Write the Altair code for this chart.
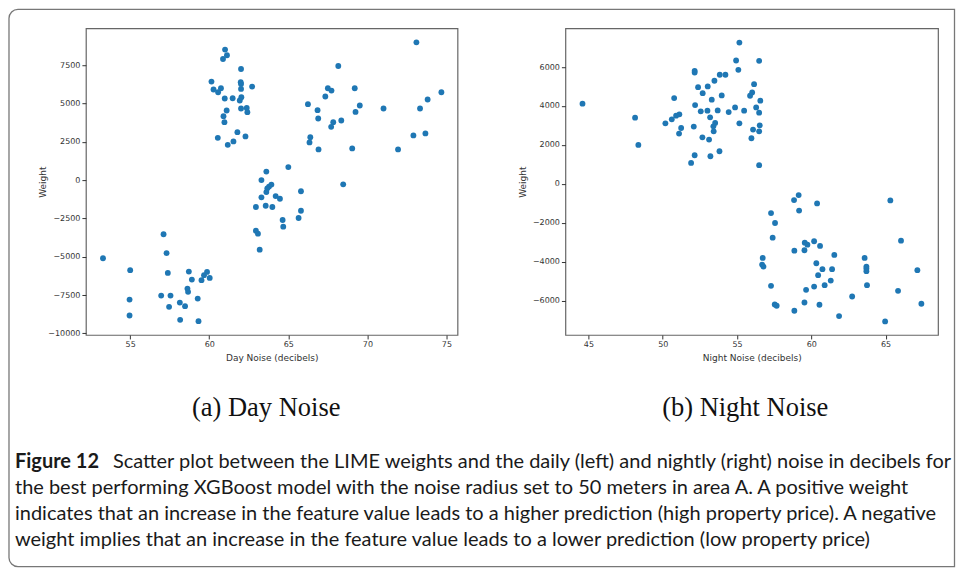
import altair as alt
import pandas as pd

# ---------------- data ----------------
day_noise = [61.0, 61.12, 60.87, 62.01, 60.14, 60.27, 60.56, 60.74, 61.99, 62.01,
             62.01, 62.03, 61.93, 60.98, 61.48, 61.10, 60.90, 60.96, 62.01, 62.37,
             62.41, 62.71, 60.54, 61.78, 62.29, 61.17, 61.53, 68.16, 73.10, 74.68,
             73.81, 73.33, 71.02, 69.20, 69.52, 69.25, 67.50, 67.73, 67.34, 66.24,
             66.85, 66.89, 68.35, 67.84, 67.71, 66.39, 66.34, 66.91, 69.04, 71.94,
             72.91, 73.67, 65.0, 63.61, 63.30, 63.93, 63.78, 63.67, 65.80, 68.47,
             63.61, 63.30, 62.95, 63.57, 63.99, 64.20, 64.47, 65.80, 65.65, 64.64,
             64.68, 62.95, 63.08, 63.19, 57.11, 57.30, 53.28, 55.0, 57.38, 58.71,
             59.86, 59.67, 59.51, 60.03, 58.90, 58.62, 58.66, 56.96, 57.55, 59.27,
             54.96, 58.14, 58.47, 57.46, 54.96, 58.16, 59.32]
day_weight = [8509, 8138, 7897, 7246, 6425, 5905, 5729, 5989, 6380, 6269,
              5944, 5403, 5188, 5319, 5338, 4537, 4166, 3776, 4668, 4707,
              4427, 6100, 2754, 3125, 2845, 2298, 2519, 7441, 8984, 5729,
              5254, 4668, 4668, 5989, 4863, 4446, 5989, 5839, 5449, 4948,
              4557, 4017, 3886, 3776, 3470, 2799, 2454, 1999, 2064, 1999,
              2910, 3040, 846, 553, 0, -293, -423, -540, -729, -280,
              -781, -1126, -1758, -1673, -1758, -1042, -1217, -1999, -2474, -2604,
              -3040, -3301, -3496, -4537, -3535, -4765, -5097, -5878, -6054, -5970,
              -5989, -6204, -6530, -6380, -6490, -7076, -7291, -7532, -7532, -7727,
              -7792, -7988, -8222, -8268, -8834, -9114, -9199]

night_noise = [44.60, 48.14, 48.36, 52.15, 52.15, 53.84, 54.22, 53.48, 52.38, 53.03,
               52.69, 53.97, 53.30, 50.77, 52.18, 52.56, 53.01, 53.70, 54.44, 51.12,
               50.90, 50.61, 50.18, 53.19, 53.53, 53.41, 53.43, 51.24, 51.10, 52.09,
               52.67, 53.12, 52.15, 51.91, 53.21, 53.82, 55.16, 54.94, 56.49, 55.09,
               56.15, 56.02, 55.88, 56.57, 56.29, 56.49, 54.87, 55.48, 55.16, 56.53,
               56.08, 56.49, 55.97, 56.49, 59.15, 58.84, 60.39, 59.18, 65.32, 57.29,
               57.56, 57.40, 58.86, 59.54, 59.56, 59.74, 60.19, 60.59, 61.55, 60.34,
               60.75, 61.40, 60.46, 61.31, 60.90, 60.19, 59.65, 56.73, 56.69, 56.78,
               57.29, 57.54, 57.67, 59.54, 60.55, 58.86, 61.87, 62.75, 63.59, 63.71,
               63.71, 63.71, 63.75, 64.97, 65.84, 66.04, 67.14, 67.41]
night_weight = [4116, 3400, 1997, 5806, 5719, 5601, 5601, 5294, 4966, 5002,
                4659, 4541, 4321, 4403, 4045, 3722, 3758, 3773, 3686, 3569,
                3502, 3313, 3108, 3415, 3123, 2954, 2698, 2867, 2580, 2939,
                2391, 2273, 1469, 1075, 1418, 1674, 7255, 6333, 6318, 5857,
                5120, 4695, 4526, 4270, 3927, 3656, 3927, 3758, 3108, 3005,
                2785, 2698, 2340, 957, -579, -835, -1004, -1372, -850, -1500,
                -2012, -2765, -3430, -3410, -3021, -3123, -2949, -3190, -3651, -4076,
                -4383, -4383, -4690, -4966, -5202, -5274, -5443, -3804, -4147, -4250,
                -5238, -6195, -6262, -6093, -6211, -6518, -6789, -5786, -3804, -4250,
                -4352, -4485, -5202, -7066, -5494, -2918, -4434, -6159]

day_xticks = [55, 60, 65, 70, 75]
day_yticks = [-10000, -7500, -5000, -2500, 0, 2500, 5000, 7500]
night_xticks = [45, 50, 55, 60, 65]
night_yticks = [-6000, -4000, -2000, 0, 2000, 4000, 6000]

sub_titles = ["(a) Day Noise", "(b) Night Noise"]
x_titles = ["Day Noise (decibels)", "Night Noise (decibels)"]
y_title = "Weight"

caption_head = "Figure 12"
caption_lines = [
    "Scatter plot between the LIME weights and the daily (left) and nightly (right) noise in decibels for",
    "the best performing XGBoost model with the noise radius set to 50 meters in area A. A positive weight",
    "indicates that an increase in the feature value leads to a higher prediction (high property price). A negative",
    "weight implies that an increase in the feature value leads to a lower prediction (low property price)",
]

POINT = "#1f77b4"
AX = "#333333"
CAP_FONT = "Lato"
CAP_SIZE = 20
CAP_COLOR = "#1a1a1a"


def scatter(noise, weight, xtitle, xdom, ydom, xticks, yticks, w):
    df = pd.DataFrame({"noise": noise, "weight": weight})
    return (
        alt.Chart(df)
        .mark_circle(size=34, opacity=1, color=POINT)
        .encode(
            x=alt.X(
                "noise:Q", title=xtitle,
                scale=alt.Scale(domain=xdom, nice=False, zero=False),
                axis=alt.Axis(values=xticks, format="d", titleY=23, titleBaseline="middle"),
            ),
            y=alt.Y(
                "weight:Q", title=y_title,
                scale=alt.Scale(domain=ydom, nice=False, zero=False),
                axis=alt.Axis(values=yticks, format="d", titleX=-43, titleBaseline="middle"),
            ),
        )
        .properties(width=w, height=307)
    )


def sub_caption(text, xc):
    return alt.Chart(pd.DataFrame({"t": [text]})).mark_text(
        align="center", baseline="middle", font="Liberation Serif",
        fontSize=26.5, color="#111111",
    ).encode(x=alt.value(xc), y=alt.value(380), text="t:N")


# caption (drawn in the left panel's layer, below the plots)
cap_df = pd.DataFrame({"line": [0, 1, 2, 3], "text": caption_lines})
head_df = pd.DataFrame({"line": [0], "text": [caption_head]})
y_cap = alt.Y("line:Q", scale=alt.Scale(domain=[0, 3], range=[434, 512]), axis=None)

head = alt.Chart(head_df).mark_text(
    align="left", baseline="middle", font=CAP_FONT, fontSize=CAP_SIZE,
    fontWeight="bold", color=CAP_COLOR,
).encode(x=alt.value(-71), y=y_cap, text="text:N")

first = alt.Chart(cap_df).transform_filter("datum.line == 0").mark_text(
    align="left", baseline="middle", font=CAP_FONT, fontSize=CAP_SIZE, color=CAP_COLOR,
).encode(x=alt.value(27), y=y_cap, text="text:N")

rest = alt.Chart(cap_df).transform_filter("datum.line > 0").mark_text(
    align="left", baseline="middle", font=CAP_FONT, fontSize=CAP_SIZE, color=CAP_COLOR,
).encode(x=alt.value(-71), y=y_cap, text="text:N")

border = alt.Chart(pd.DataFrame({"b": [0]})).mark_rect(
    fill="transparent", stroke="#777777", strokeWidth=1.3,
    cornerRadiusTopLeft=9, cornerRadiusBottomLeft=9,
).encode(x=alt.value(-77), x2=alt.value(869.5), y=alt.value(-19), y2=alt.value(539))

left_sc = scatter(day_noise, day_weight, x_titles[0],
                  [52.2, 75.7], [-10100, 9900], day_xticks, day_yticks, 372)
right_sc = scatter(night_noise, night_weight, x_titles[1],
                   [43.45, 68.53], [-7760, 7990], night_xticks, night_yticks, 373)

left = (
    alt.layer(left_sc, sub_caption(sub_titles[0], 180.5), border, head, first, rest)
    .resolve_scale(y="independent")
    .properties(width=372, height=307)
)
right = alt.layer(right_sc, sub_caption(sub_titles[1], 180)).properties(width=373, height=307)

chart = (
    alt.hconcat(left, right, spacing=108, bounds="flush")
    .properties(padding={"left": 7, "top": 7, "right": 0, "bottom": 0}, background="white")
    .configure_view(stroke="#666666", strokeWidth=1.2)
    .configure_axis(
        grid=False, domain=False, ticks=True, tickColor=AX, tickSize=4, tickWidth=1,
        labelFont="DejaVu Sans", labelFontSize=8, labelColor=AX, labelPadding=2,
        titleFont="DejaVu Sans", titleFontSize=9, titleFontWeight="normal", titleColor=AX,
    )
)

chart.save("out.html", embed_options={"renderer": "svg", "actions": False})
